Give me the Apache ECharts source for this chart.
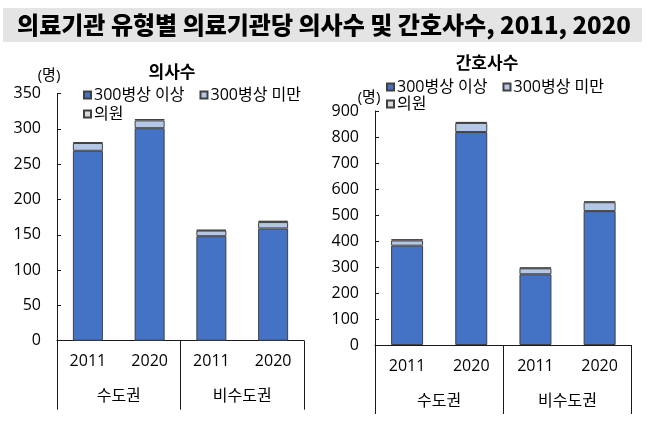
<!DOCTYPE html>
<html><head><meta charset="utf-8">
<script src="https://cdn.jsdelivr.net/npm/echarts@6/dist/echarts.min.js"></script>
<style>html,body{margin:0;padding:0;background:#fff}#c{width:648px;height:422px}</style>
</head><body><div id="c"></div>
<script>
const years = ['2011', '2020', '2011', '2020'];
const regions = ['수도권', '비수도권'];
const seriesNames = ['300병상 이상', '300병상 미만', '의원'];
// 의사수
const docLarge = [269, 301, 148, 159];
const docSmall = [11, 11, 8, 9];
const docClinic = [1, 2, 1, 2];
// 간호사수
const nurLarge = [382, 819, 272, 515];
const nurSmall = [20, 35, 23, 34];
const nurClinic = [5, 4, 3, 3];

const FONT = '"Open Sans", "Noto Sans CJK KR", sans-serif';
const TFONT = '"Noto Sans CJK KR", sans-serif';
const colors = ['#4472C4', '#B4C7E7', '#D9D9D9'];
const axisColor = '#1a1a1a';

function xAxesFor(gi) {
  return [
    { gridIndex: gi, type: 'category', data: years,
      axisLine: { lineStyle: { color: axisColor, width: 1 } },
      axisTick: { show: false },
      axisLabel: { color: '#000', fontFamily: FONT, fontSize: 16, margin: 13, interval: 0 } },
    { gridIndex: gi, type: 'category', data: regions, position: 'bottom',
      axisLine: { show: false },
      axisTick: { show: true, length: 69, interval: 0, lineStyle: { color: axisColor, width: 1 } },
      axisLabel: { color: '#000', fontFamily: FONT, fontSize: 16, margin: 48, interval: 0 } }
  ];
}
function yAxisFor(gi, max, interval) {
  return { gridIndex: gi, type: 'value', min: 0, max: max, interval: interval,
    splitLine: { show: false },
    axisLine: { show: true, lineStyle: { color: axisColor, width: 1 } },
    axisTick: { show: true, inside: true, length: 4, lineStyle: { color: axisColor } },
    axisLabel: { color: '#000', fontFamily: FONT, fontSize: 16, margin: 16 } };
}
function barSeries(name, data, idx, xi, yi, stack, bw) {
  return { name: name, type: 'bar', stack: stack, xAxisIndex: xi, yAxisIndex: yi,
    data: data, barWidth: bw,
    itemStyle: { color: colors[idx], borderColor: '#404040', borderWidth: 1 } };
}
function legendPair(left, top1, top2) {
  const base = { orient: 'horizontal', icon: 'rect', itemWidth: 7, itemHeight: 7, itemGap: 15,
    textStyle: { color: '#000', fontFamily: FONT, fontSize: 16, padding: [0, 0, 0, -2] }, padding: 0 };
  return [
    Object.assign({}, base, { left: left, top: top1, data: [seriesNames[0], seriesNames[1]] }),
    Object.assign({}, base, { left: left, top: top2, data: [seriesNames[2]] })
  ];
}

const chart = echarts.init(document.getElementById('c'));
chart.setOption({
  animation: false,
  textStyle: { fontFamily: FONT },
  graphic: [
    { type: 'rect', shape: { x: 3, y: 8, width: 639, height: 34 }, style: { fill: '#e4e4e4' } },
    { type: 'text', x: 324, y: 25, style: { text: '의료기관 유형별 의료기관당 의사수 및 간호사수, 2011, 2020',
      fontFamily: TFONT, fontSize: 24, fontWeight: 900, fill: '#000', align: 'center', verticalAlign: 'middle' } },
    { type: 'text', x: 49, y: 76, style: { text: '(명)', fontFamily: FONT, fontSize: 15, fill: '#000', align: 'center', verticalAlign: 'middle' } },
    { type: 'text', x: 369, y: 98, style: { text: '(명)', fontFamily: FONT, fontSize: 15, fill: '#000', align: 'center', verticalAlign: 'middle' } }
  ],
  title: [
    { text: '의사수', left: 172, top: 72, textAlign: 'center', textVerticalAlign: 'middle', padding: 0,
      textStyle: { fontFamily: TFONT, fontSize: 17, fontWeight: 'bold', color: '#000' } },
    { text: '간호사수', left: 487, top: 63, textAlign: 'center', textVerticalAlign: 'middle', padding: 0,
      textStyle: { fontFamily: TFONT, fontSize: 17, fontWeight: 'bold', color: '#000' } }
  ],
  legend: legendPair(83, 87, 106).concat(legendPair(386, 79, 96)),
  grid: [
    { left: 57, right: 344, top: 93.6, bottom: 81.3 },
    { left: 375, right: 16.3, top: 111, bottom: 77 }
  ],
  xAxis: xAxesFor(0).concat(xAxesFor(1)),
  yAxis: [yAxisFor(0, 350, 50), yAxisFor(1, 900, 100)],
  series: [
    barSeries(seriesNames[0], docLarge, 0, 0, 0, 'd', 30),
    barSeries(seriesNames[1], docSmall, 1, 0, 0, 'd', 30),
    barSeries(seriesNames[2], docClinic, 2, 0, 0, 'd', 30),
    barSeries(seriesNames[0], nurLarge, 0, 2, 1, 'n', 32),
    barSeries(seriesNames[1], nurSmall, 1, 2, 1, 'n', 32),
    barSeries(seriesNames[2], nurClinic, 2, 2, 1, 'n', 32)
  ]
});
</script></body></html>
